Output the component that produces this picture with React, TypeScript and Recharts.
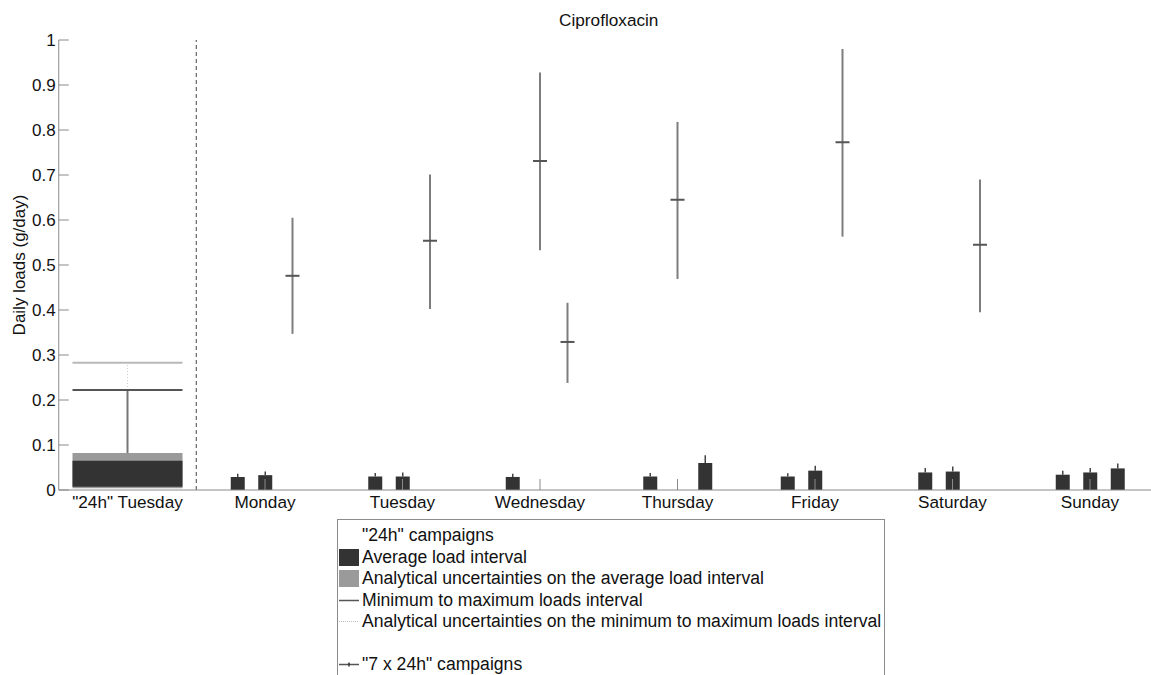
import React from "react";
import {
  ComposedChart,
  Bar,
  Scatter,
  XAxis,
  YAxis,
  ErrorBar,
  ReferenceLine,
  ReferenceArea,
  Legend,
} from "recharts";

const FONT = '"Liberation Sans", Arial, Helvetica, sans-serif';
const AXIS = "#8a8a8a";
const DARK = "#333333";
const GREY = "#9a9a9a";

const DAYS = ['"24h" Tuesday', "Monday", "Tuesday", "Wednesday", "Thursday", "Friday", "Saturday", "Sunday"];
const DAY_TICKS = [0, 1, 2, 3, 4, 5, 6, 7];
const Y_TICKS = [0, 0.1, 0.2, 0.3, 0.4, 0.5, 0.6, 0.7, 0.8, 0.9, 1];

// "24h" campaigns during the week: position = day index + slot (-0.2 / 0 / +0.2)
const BAR_POS = [0.8, 1.0, 1.8, 2.0, 2.8, 3.8, 4.2, 4.8, 5.0, 5.8, 6.0, 6.8, 7.0, 7.2];
const BAR_AVG = [0.029, 0.033, 0.030, 0.030, 0.029, 0.030, 0.060, 0.030, 0.043, 0.039, 0.041, 0.034, 0.039, 0.048];
const BAR_UNC = [0.007, 0.008, 0.008, 0.009, 0.007, 0.008, 0.017, 0.007, 0.011, 0.010, 0.011, 0.009, 0.010, 0.011];

// "7 x 24h" campaigns
const WEEK_POS = [1.2, 2.2, 3.0, 3.2, 4.0, 5.2, 6.2];
const WEEK_MEAN = [0.476, 0.554, 0.731, 0.329, 0.645, 0.773, 0.545];
const WEEK_MIN = [0.347, 0.402, 0.533, 0.238, 0.469, 0.563, 0.395];
const WEEK_MAX = [0.605, 0.701, 0.928, 0.416, 0.818, 0.980, 0.690];

// "24h" Tuesday reference campaign
const REF_X = [-0.4, 0.4];
const REF_AVG = [0.007, 0.065];
const REF_AVG_UNC = [0.004, 0.082];
const REF_MAX = 0.222;
const REF_MAX_UNC = 0.283;

const LEGEND_ITEMS = [
  { label: '"24h" campaigns', symbol: "none" },
  { label: "Average load interval", symbol: "dark" },
  { label: "Analytical uncertainties on the average load interval", symbol: "grey" },
  { label: "Minimum to maximum loads interval", symbol: "line" },
  { label: "Analytical uncertainties on the minimum to maximum loads interval", symbol: "dotted" },
  { label: "", symbol: "none" },
  { label: '"7 x 24h" campaigns', symbol: "week" },
];

const barData = BAR_POS.map((x, i) => ({ x, avg: BAR_AVG[i], whisker: [0, BAR_UNC[i]] }));
const weekData = WEEK_POS.map((x, i) => ({
  x,
  mean: WEEK_MEAN[i],
  range: [WEEK_MEAN[i] - WEEK_MIN[i], WEEK_MAX[i] - WEEK_MEAN[i]],
}));

const XTick = (props: any) => {
  const { x, y, payload } = props;
  return (
    <g>
      {/* the reference campaign box hides its own tick */}
      {payload.value !== 0 && <line x1={x} x2={x} y1={y - 6} y2={y - 17} stroke={AXIS} />}
      <text x={x} y={y + 12} textAnchor="middle" fontSize={17.2} fontFamily={FONT} fill="#111">
        {DAYS[payload.value]}
      </text>
    </g>
  );
};

const YTick = (props: any) => {
  const { x, y, payload } = props;
  return (
    <g>
      <line x1={x + 3} x2={x + 13} y1={y} y2={y} stroke={AXIS} />
      <text x={x} y={y} dy="0.36em" textAnchor="end" fontSize={17} fontFamily={FONT} fill="#111">
        {String(payload.value)}
      </text>
    </g>
  );
};

const YLabel = (props: any) => {
  const vb = props.viewBox || { x: 0, y: 0, width: 0, height: 0 };
  const x = vb.x + 15.75;
  const y = vb.y + vb.height / 2;
  return (
    <text x={x} y={y} transform={`rotate(-90, ${x}, ${y})`} textAnchor="middle" fontSize={17} fontFamily={FONT} fill="#111">
      Daily loads (g/day)
    </text>
  );
};

const MeanTick = (props: any) => {
  const { cx, cy } = props;
  return <line x1={cx - 7} x2={cx + 7} y1={cy} y2={cy} stroke="#555" strokeWidth={2} />;
};

function LegendSymbol({ kind }: { kind: string }) {
  if (kind === "dark" || kind === "grey") {
    return <div style={{ width: 20, height: 17, marginLeft: 1, background: kind === "dark" ? DARK : GREY }} />;
  }
  return (
    <svg width={21} height={17}>
      {kind === "line" && <line x1={1} x2={21} y1={8.5} y2={8.5} stroke="#555" strokeWidth={1.5} />}
      {kind === "dotted" && <line x1={1} x2={21} y1={8.5} y2={8.5} stroke="#bbb" strokeDasharray="1 1" />}
      {kind === "week" && (
        <g>
          <line x1={1} x2={21} y1={8.5} y2={8.5} stroke="#555" strokeWidth={1.5} />
          <line x1={11} x2={11} y1={6.5} y2={10.5} stroke="#333" strokeWidth={1.5} />
        </g>
      )}
    </svg>
  );
}

function LegendBox() {
  return (
    <div
      style={{
        border: "1px solid #8c8c8c",
        boxSizing: "border-box",
        width: 548,
        height: 170,
        paddingTop: 5,
        background: "#fff",
        fontFamily: FONT,
        fontSize: 17.6,
        color: "#111",
      }}
    >
      {LEGEND_ITEMS.map((item, i) => (
        <div key={i} style={{ display: "flex", alignItems: "center", height: 21.5, whiteSpace: "nowrap" }}>
          <div style={{ width: 24, flex: "0 0 24px", display: "flex", alignItems: "center" }}>
            <LegendSymbol kind={item.symbol} />
          </div>
          <span>{item.label}</span>
        </div>
      ))}
    </div>
  );
}

export default function App() {
  return (
    <div
      style={{
        position: "absolute",
        left: 0,
        top: 0,
        width: 1151,
        height: 675,
        overflow: "hidden",
        background: "#fff",
        fontFamily: FONT,
      }}
    >
      <div
        style={{
          position: "absolute",
          left: 408.75,
          width: 400,
          top: 10,
          textAlign: "center",
          fontSize: 17.2,
          lineHeight: "20px",
          color: "#111",
          zIndex: 2,
        }}
      >
        Ciprofloxacin
      </div>
      <ComposedChart
        width={1160}
        height={675}
        data={barData}
        margin={{ top: 40, right: 1.25, bottom: 155, left: 8.75 }}
      >
        <XAxis
          dataKey="x"
          type="number"
          domain={[-0.5, 7.5]}
          ticks={DAY_TICKS}
          interval={0}
          allowDataOverflow
          tick={XTick}
          tickSize={0}
          tickMargin={6}
          tickLine={false}
          axisLine={{ stroke: AXIS }}
          height={30}
        />
        <YAxis
          type="number"
          domain={[0, 1]}
          ticks={Y_TICKS}
          interval={0}
          allowDataOverflow
          tick={YTick}
          tickSize={0}
          tickMargin={3}
          tickLine={false}
          axisLine={{ stroke: AXIS }}
          width={50}
          label={{ content: YLabel }}
        />
        <ReferenceLine x={0.5} stroke="#444" strokeDasharray="4 3" />
        <ReferenceLine
          segment={[
            { x: 0, y: REF_MAX },
            { x: 0, y: REF_MAX_UNC },
          ]}
          stroke="#c8c8c8"
          strokeDasharray="1 2"
        />
        <ReferenceLine
          segment={[
            { x: REF_X[0], y: REF_MAX_UNC },
            { x: REF_X[1], y: REF_MAX_UNC },
          ]}
          stroke="#b8b8b8"
          strokeWidth={2}
        />
        <ReferenceLine
          segment={[
            { x: 0, y: REF_AVG_UNC[1] },
            { x: 0, y: REF_MAX },
          ]}
          stroke="#777"
          strokeWidth={2}
        />
        <ReferenceLine
          segment={[
            { x: REF_X[0], y: REF_MAX },
            { x: REF_X[1], y: REF_MAX },
          ]}
          stroke="#555"
          strokeWidth={2}
        />
        <ReferenceArea
          x1={REF_X[0]}
          x2={REF_X[1]}
          y1={REF_AVG_UNC[0]}
          y2={REF_AVG_UNC[1]}
          fill={GREY}
          fillOpacity={1}
          stroke="none"
        />
        <ReferenceArea
          x1={REF_X[0]}
          x2={REF_X[1]}
          y1={REF_AVG[0]}
          y2={REF_AVG[1]}
          fill={DARK}
          fillOpacity={1}
          stroke="none"
        />
        <Bar dataKey="avg" barSize={14} fill={DARK} isAnimationActive={false}>
          <ErrorBar dataKey="whisker" direction="y" width={0} stroke="#444" strokeWidth={1.5} />
        </Bar>
        <Scatter data={weekData} dataKey="mean" shape={MeanTick} isAnimationActive={false}>
          <ErrorBar dataKey="range" direction="y" width={0} stroke="#7d7d7d" strokeWidth={2} />
        </Scatter>
        <Legend
          layout="horizontal"
          verticalAlign="middle"
          align="center"
          wrapperStyle={{ left: 337, top: 519, width: 548 }}
          content={() => <LegendBox />}
        />
      </ComposedChart>
    </div>
  );
}
